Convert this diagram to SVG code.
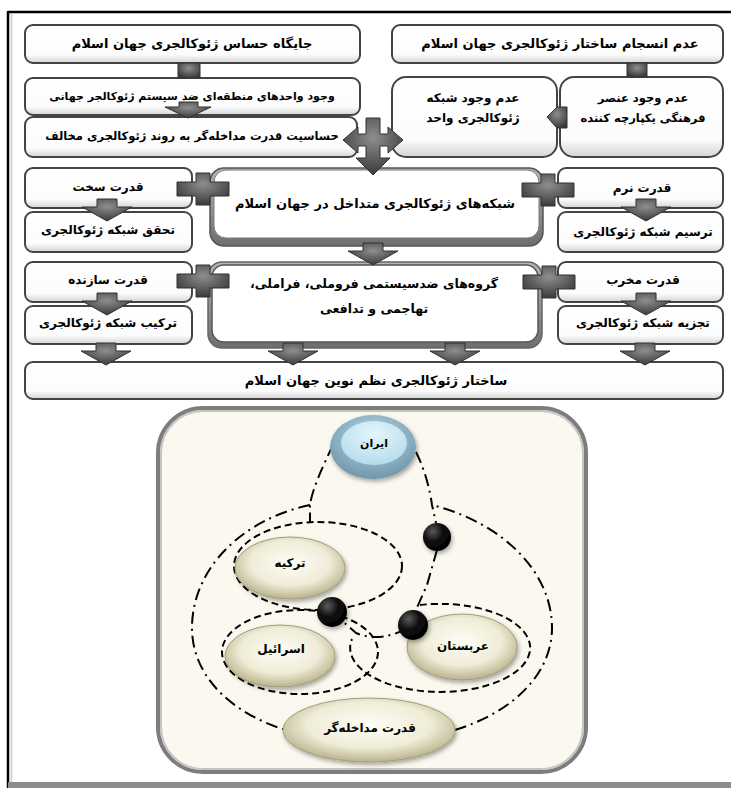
<svg xmlns="http://www.w3.org/2000/svg" width="731" height="788" viewBox="0 0 731 788">
<defs>
<style>
.box{fill:url(#boxG);stroke:#444;stroke-width:2}
.t{font-family:"DejaVu Sans","Noto Sans",sans-serif;font-weight:bold;font-size:13px;text-anchor:middle;fill:#000;direction:rtl}
.ts{font-family:"DejaVu Sans","Noto Sans",sans-serif;font-weight:bold;font-size:12px;text-anchor:middle;fill:#000;direction:rtl}
.arr{fill:url(#arrG);stroke:#333;stroke-width:1}
.dd{fill:none;stroke:#000;stroke-width:2;stroke-dasharray:12 5 2 5}
.da{fill:none;stroke:#000;stroke-width:2;stroke-dasharray:7 4}
.kh{fill:url(#khaki);stroke:#a39d78;stroke-width:1;filter:url(#sh)}
.ball{fill:url(#ballG);filter:url(#sh)}
</style>
<linearGradient id="boxG" x1="0" y1="0" x2="0" y2="1">
<stop offset="0" stop-color="#ffffff"/>
<stop offset="0.78" stop-color="#fcfcfc"/>
<stop offset="1" stop-color="#d4d4d4"/>
</linearGradient>
<linearGradient id="frameG" x1="0" y1="0" x2="0" y2="1">
<stop offset="0" stop-color="#b5b5b5"/>
<stop offset="1" stop-color="#6e6e6e"/>
</linearGradient>
<radialGradient id="arrG" cx="0.5" cy="0.35" r="0.65">
<stop offset="0" stop-color="#8e8e8e"/>
<stop offset="1" stop-color="#3a3a3a"/>
</radialGradient>
<radialGradient id="khaki" cx="0.5" cy="0.42" r="0.6">
<stop offset="0" stop-color="#fefdf6"/>
<stop offset="0.6" stop-color="#efecd7"/>
<stop offset="1" stop-color="#b4ad86"/>
</radialGradient>
<radialGradient id="iranOut" cx="0.5" cy="0.35" r="0.65">
<stop offset="0" stop-color="#b9dbe8"/>
<stop offset="1" stop-color="#6f97aa"/>
</radialGradient>
<radialGradient id="iranIn" cx="0.5" cy="0.3" r="0.7">
<stop offset="0" stop-color="#e3f6fb"/>
<stop offset="1" stop-color="#b5dceb"/>
</radialGradient>
<radialGradient id="ballG" cx="0.35" cy="0.3" r="0.7">
<stop offset="0" stop-color="#5a5a5a"/>
<stop offset="0.5" stop-color="#111"/>
<stop offset="1" stop-color="#000"/>
</radialGradient>
<filter id="sh" x="-20%" y="-20%" width="150%" height="160%">
<feDropShadow dx="1.5" dy="2.5" stdDeviation="2" flood-color="#000" flood-opacity="0.35"/>
</filter>
<path id="dArrow" d="M-10 0 H10 V8 H25 L0 22 L-25 8 H-10 Z"/>
<path id="plus" d="M-7 -16 H7 V-7 H26 V7 H7 V16 H-7 V7 H-26 V-7 H-7 Z"/>
</defs>

<rect x="0" y="0" width="731" height="788" fill="#ffffff"/>
<g id="frame">
<line x1="8" y1="11" x2="8" y2="788" stroke="#000" stroke-width="2.5"/>
<line x1="8" y1="12" x2="731" y2="12" stroke="#000" stroke-width="2.5"/>
<line x1="11.5" y1="14" x2="11.5" y2="782" stroke="#d6d6d6" stroke-width="2"/>
<rect x="8" y="782" width="723" height="6" fill="#8c8c8c"/>
</g>

<g id="n1"><rect class="box" x="25" y="25" width="335" height="38" rx="8"/><text class="t" x="192" y="48">جایگاه حساس ژئوکالجری جهان اسلام</text></g>
<g id="n2"><rect class="box" x="392" y="25" width="331" height="38" rx="8"/><text class="t" x="560" y="48">عدم انسجام ساختار ژئوکالجری جهان اسلام</text></g>
<g id="n3"><rect class="box" x="25" y="78" width="335" height="37" rx="8"/><text class="t" x="192" y="100" style="font-size:11px">وجود واحدهای منطقه‌ای ضد سیستم ژئوکالجر جهانی</text></g>
<g id="n4"><rect class="box" x="25" y="117" width="332" height="40" rx="8"/><text class="t" x="192" y="140" style="font-size:11.5px">حساسیت قدرت مداخله‌گر به روند ژئوکالجری مخالف</text></g>
<g id="n5"><rect class="box" x="392" y="77" width="165" height="80" rx="14"/><text class="ts" x="473" y="102">عدم وجود شبکه</text><text class="ts" x="473" y="122">ژئوکالجری واحد</text></g>
<g id="n6"><rect class="box" x="560" y="77" width="163" height="80" rx="14"/><text class="ts" x="643" y="102" style="font-size:11.5px">عدم وجود عنصر</text><text class="ts" x="643" y="122" style="font-size:11.5px">فرهنگی یکپارچه کننده</text></g>

<g id="n7"><rect class="box" x="25" y="168" width="167" height="40" rx="8"/><text class="ts" x="108" y="191">قدرت سخت</text></g>
<g id="n8"><rect class="box" x="25" y="212" width="167" height="40" rx="8"/><text class="ts" x="108" y="234">تحقق شبکه ژئوکالجری</text></g>
<g id="n9"><rect class="box" x="558" y="168" width="165" height="40" rx="8"/><text class="ts" x="642" y="192">قدرت نرم</text></g>
<g id="n10"><rect class="box" x="558" y="212" width="165" height="40" rx="8"/><text class="ts" x="643" y="236">ترسیم شبکه ژئوکالجری</text></g>
<g id="n11"><rect class="box" x="25" y="262" width="167" height="40" rx="8"/><text class="ts" x="108" y="284">قدرت سازنده</text></g>
<g id="n12"><rect class="box" x="25" y="306" width="167" height="38" rx="8"/><text class="ts" x="108" y="327">ترکیب شبکه ژئوکالجری</text></g>
<g id="n13"><rect class="box" x="558" y="262" width="165" height="40" rx="8"/><text class="ts" x="643" y="284">قدرت مخرب</text></g>
<g id="n14"><rect class="box" x="558" y="306" width="165" height="38" rx="8"/><text class="ts" x="643" y="327">تجزیه شبکه ژئوکالجری</text></g>

<g id="n15">
<rect x="210" y="168" width="333" height="78" rx="14" fill="url(#frameG)" stroke="#555" stroke-width="1.5"/>
<rect x="214" y="170" width="325" height="68" rx="12" fill="#ffffff" stroke="#7a7a7a" stroke-width="1"/>
<text class="t" x="375" y="208">شبکه‌های ژئوکالجری متداخل در جهان اسلام</text>
</g>
<g id="n16">
<rect x="208" y="262" width="334" height="86" rx="14" fill="url(#frameG)" stroke="#666" stroke-width="1.5"/>
<rect x="212" y="265" width="326" height="77" rx="12" fill="#ffffff" stroke="#555" stroke-width="1.5"/>
<text class="t" x="374" y="288" style="font-size:12.5px">گروه‌های ضدسیستمی فروملی، فراملی،</text>
<text class="t" x="374" y="313" style="font-size:12.5px">تهاجمی و تدافعی</text>
</g>
<g id="n17"><rect class="box" x="25" y="362" width="698" height="37" rx="8"/><text class="t" x="376" y="385">ساختار ژئوکالجری نظم نوین جهان اسلام</text></g>

<g id="connectors">
<rect class="arr" x="178" y="63" width="22" height="15"/>
<path class="arr" d="M179 102 H198 V107 H211 L188 118 L165 107 H179 Z"/>
<rect class="arr" x="627" y="63" width="20" height="14"/>
<path class="arr" d="M547 117 L557 107 L567 107 L567 128 L557 128 Z"/>
<path class="arr" d="M343 140 L358 127 L358 134 L366 134 L366 118 L380 118 L380 134 L388 134 L388 127 L403 140 L388 153 L388 146 L380 146 L380 158 L390 158 L373 175 L356 158 L366 158 L366 146 L358 146 L358 153 Z"/>
<use href="#dArrow" class="arr" x="107" y="199"/>
<use href="#dArrow" class="arr" x="646" y="199"/>
<use href="#dArrow" class="arr" x="107" y="293"/>
<use href="#dArrow" class="arr" x="646" y="293"/>
<use href="#dArrow" class="arr" x="373" y="243"/>
<use href="#dArrow" class="arr" x="106" y="343"/>
<use href="#dArrow" class="arr" x="293" y="343"/>
<use href="#dArrow" class="arr" x="455" y="343"/>
<use href="#dArrow" class="arr" x="645" y="343"/>
<use href="#plus" class="arr" x="203" y="189"/>
<use href="#plus" class="arr" x="548" y="190"/>
<use href="#plus" class="arr" x="203" y="281"/>
<use href="#plus" class="arr" x="549" y="282"/>
</g>

<g id="panel">
<rect x="158" y="408" width="428" height="364" rx="45" fill="#fbf9ef" stroke="#7d7d7d" stroke-width="4"/>
<rect x="161" y="411" width="422" height="358" rx="42" fill="none" stroke="#c4c4c4" stroke-width="2"/>
</g>

<g id="links">
<path class="dd" d="M333 445 C322 468 312 490 310 505 L310 523"/>
<path class="dd" d="M416 452 C425 470 430 490 432 505 L436 523"/>
<path class="dd" d="M310 505 C240 520 192 570 192 628 C192 692 262 742 370 742 C480 742 552 690 552 628 C552 570 500 522 432 505"/>
<path class="dd" d="M437 550 L427 585 L415 612"/>
<path class="dd" d="M332 612 L356 633 Q382 644 413 625"/>
<ellipse class="da" cx="318" cy="566" rx="84" ry="44"/>
<ellipse class="da" cx="300" cy="652" rx="78" ry="42"/>
<path class="da" d="M420 605 A90 44 0 1 1 352 639"/>
</g>

<g id="iran">
<ellipse cx="373" cy="447" rx="43" ry="32" fill="url(#iranOut)" filter="url(#sh)"/>
<ellipse cx="374" cy="443" rx="33" ry="22" fill="url(#iranIn)"/>
<text class="ts" x="374" y="447" style="font-size:11px">ایران</text>
</g>
<g id="turkey"><ellipse class="kh" cx="290" cy="568" rx="55" ry="31"/><text class="ts" x="290" y="567">ترکیه</text></g>
<g id="israel"><ellipse class="kh" cx="280" cy="656" rx="55" ry="31"/><text class="ts" x="281" y="653">اسرائیل</text></g>
<g id="arabia"><ellipse class="kh" cx="462" cy="647" rx="55" ry="33"/><text class="ts" x="463" y="650">عربستان</text></g>
<g id="intervener"><ellipse class="kh" cx="369" cy="730" rx="86" ry="32"/><text class="ts" x="370" y="732">قدرت مداخله‌گر</text></g>

<g id="balls">
<circle class="ball" cx="437" cy="537" r="14"/>
<circle class="ball" cx="332" cy="612" r="15"/>
<circle class="ball" cx="413" cy="625" r="15"/>
</g>
</svg>
